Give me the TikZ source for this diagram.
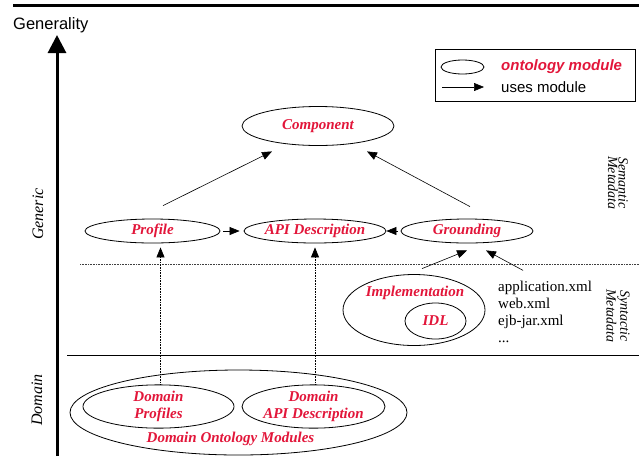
\documentclass[tikz,border=0pt]{standalone}
\usepackage{fontspec}
\setmainfont{Liberation Serif}
\newfontfamily\lsans{Liberation Sans}
\usetikzlibrary{shapes.geometric,arrows.meta}
\definecolor{mred}{RGB}{226,22,58}
\tikzset{
  mod/.style={ellipse, draw, line width=0.8pt, inner sep=0pt, text=mred,
    font=\fontsize{15}{17}\selectfont\bfseries\itshape, align=center},
  lbl/.style={text=mred, inner sep=0pt, font=\fontsize{15}{17}\selectfont\bfseries\itshape},
  arr/.style={-{Triangle[length=10pt,width=8pt]}, line width=0.6pt},
  darr/.style={arr, dash pattern=on 0.8pt off 0.8pt, line width=0.7pt},
  side/.style={inner sep=0pt, font=\fontsize{14}{10.5}\selectfont\itshape, align=center},
  xmlt/.style={anchor=base west, inner sep=0pt, font=\fontsize{15}{17}\selectfont},
}
\begin{document}
\begin{tikzpicture}[x=1pt,y=-1pt]
\useasboundingbox (0,0) rectangle (639,456);
% frame lines
\draw[line width=3pt] (13,5) -- (639,5);
\node[anchor=base west, inner sep=0pt, font=\lsans\fontsize{16.5}{18}\selectfont] (gen) at (13,29) {Generality};
\coordinate (axb) at (57,456);
\coordinate (axt) at (57,35);
\draw[line width=3pt, -{Triangle[length=18pt,width=18pt]}] (axb) -- (axt);
\node[side, font=\fontsize{16}{18}\selectfont\itshape, rotate=90] (generic) at (38,214) {Generic};
\node[side, font=\fontsize{16}{18}\selectfont\itshape, rotate=90] (domain) at (37,400) {Domain};
\coordinate (dl1) at (80,264); \coordinate (dl2) at (639,264);
\draw[dash pattern=on 0.8pt off 0.8pt, line width=0.7pt, black!75] (dl1) -- (dl2);
\coordinate (sl1) at (67,355); \coordinate (sl2) at (639,355);
\draw[line width=0.9pt] (sl1) -- (sl2);
\node[side, rotate=-90] (sem) at (618,183) {Semantic\\Metadata};
\node[side, rotate=-90] (syn) at (618,316) {Syntactic\\Metadata};
% legend
\node[draw, line width=0.8pt, minimum width=200pt, minimum height=52pt, inner sep=0pt] (leg) at (535,75) {};
\node[ellipse, draw, line width=0.8pt, minimum width=43pt, minimum height=14pt, inner sep=0pt] (lege) at (462.5,67) {};
\node[anchor=west, inner sep=0pt, text=mred, font=\lsans\fontsize{15}{17}\selectfont\bfseries\itshape] (legt1) at (501,67) {ontology module};
\coordinate (la1) at (442,87); \coordinate (la2) at (484,87);
\draw[arr] (la1) -- (la2);
\node[anchor=west, inner sep=0pt, font=\lsans\fontsize{15}{17}\selectfont] (legt2) at (501,87) {uses module};
% modules
\node[mod, minimum width=152pt, minimum height=39pt] (comp) at (318,126) {Component};
\node[mod, minimum width=135pt, minimum height=24pt] (prof) at (152.5,231) {Profile};
\node[mod, minimum width=122pt, minimum height=24pt] (api) at (315,231) {API Description};
\node[mod, minimum width=132pt, minimum height=24pt] (grnd) at (467,231) {Grounding};
\node[mod, minimum width=142pt, minimum height=71pt] (impl) at (414,310) {};
\node[lbl] (implt) at (415,293) {Implementation};
\node[mod, minimum width=61pt, minimum height=36pt] (idl) at (435.5,321) {IDL};
\node[mod, minimum width=337pt, minimum height=85pt] (dom) at (238.5,412.5) {};
\node[lbl] (domt) at (230.5,439) {Domain Ontology Modules};
\node[mod, minimum width=151pt, minimum height=41pt] (dprof) at (158.5,406.5) {Domain\\Profiles};
\node[mod, minimum width=143pt, minimum height=41pt] (dapi) at (313.5,406.5) {Domain\\API Description};
% xml files
\node[xmlt] (x1) at (498,291) {application.xml};
\node[xmlt] (x2) at (498,308) {web.xml};
\node[xmlt] (x3) at (498,325) {ejb-jar.xml};
\node[xmlt] (x4) at (498,342) {...};
% connectors
\draw[arr, shorten <=3pt, shorten >=4pt] (prof.east) -- (api.west);
\draw[arr, shorten <=3pt] (grnd.west) -- (api.east);
\draw[arr] ([shift={(10.5,-13)}]prof.north) -- ([shift={(-46,5.5)}]comp.south);
\draw[arr] ([shift={(3,-12)}]grnd.north) -- ([shift={(49,5.5)}]comp.south);
\draw[arr] ([shift={(8,-5.5)}]impl.north) -- ([shift={(0,7)}]grnd.south);
\draw[arr] ([shift={(-22,-10)}]x1.north) -- ([shift={(19,7)}]grnd.south);
\draw[darr, shorten >=4pt] ([xshift=2pt]dprof.north) -- ([xshift=8pt]prof.south);
\draw[darr, shorten >=4pt] ([xshift=1.5pt]dapi.north) -- (api.south);
\end{tikzpicture}
\end{document}
